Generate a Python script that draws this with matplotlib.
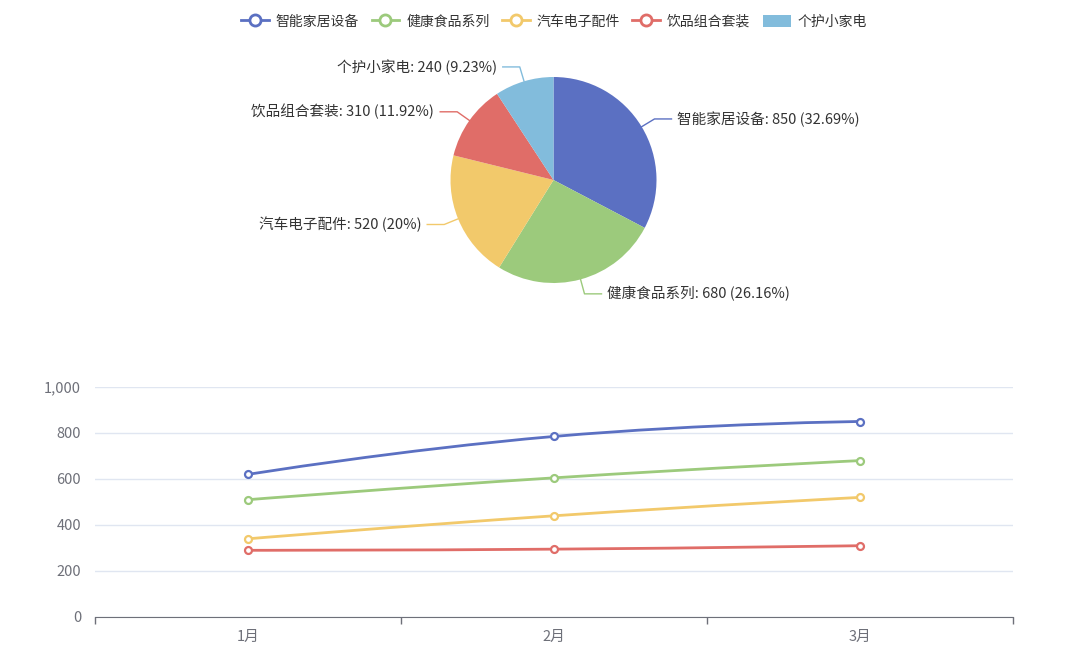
import numpy as np
import matplotlib.pyplot as plt
from matplotlib.path import Path
from matplotlib.patches import PathPatch, Patch
from matplotlib.lines import Line2D

plt.rcParams['font.family'] = ['Noto Sans CJK SC', 'DejaVu Sans']

# data
categories = ['智能家居设备', '健康食品系列', '汽车电子配件', '饮品组合套装', '个护小家电']
pie_values = [850, 680, 520, 310, 240]
months = ['1月', '2月', '3月']
line_series = {
    '智能家居设备': [620, 785, 850],
    '健康食品系列': [510, 605, 680],
    '汽车电子配件': [340, 440, 520],
    '饮品组合套装': [290, 295, 310],
}
colors = ['#5b70c2', '#9cca7c', '#f2c96b', '#e06d68', '#82bcdc']

AXIS_GRAY = '#6E7079'
GRID = '#E0E6F1'
TEXT = '#333333'


def percents(vals, digits=2):
    # largest remainder method, like echarts getPercentWithPrecision
    total = sum(vals)
    scale = 10 ** digits
    raw = [v / total * 100 * scale for v in vals]
    base = [int(np.floor(r)) for r in raw]
    left = 100 * scale - sum(base)
    order = sorted(range(len(vals)), key=lambda i: raw[i] - base[i], reverse=True)
    for i in order[:left]:
        base[i] += 1
    return [b / scale for b in base]


def smooth_path(ax, xs, ys, smooth=0.5):
    pts = ax.transData.transform(np.column_stack([xs, ys]))
    n = len(pts)
    verts = [pts[0]]
    codes = [Path.MOVETO]
    cps = []
    for i in range(n):
        if i == 0 or i == n - 1:
            cps.append((pts[i], pts[i]))
            continue
        prev, cur, nxt = pts[i - 1], pts[i], pts[i + 1]
        v = (nxt - prev) * smooth
        d0 = np.hypot(*(cur - prev))
        d1 = np.hypot(*(nxt - cur))
        s = d0 + d1
        cps.append((cur - v * d0 / s, cur + v * d1 / s))
    for i in range(1, n):
        verts += [cps[i - 1][1], cps[i][0], pts[i]]
        codes += [Path.CURVE4] * 3
    verts = ax.transData.inverted().transform(np.array(verts))
    return Path(verts, codes)


fig = plt.figure(figsize=(10.8, 6.62), dpi=100)
W, H = 1080, 662

# pie, drawn in a pixel-coordinate overlay
ax_pie = fig.add_axes([0, 0, 1, 1])
cx, cy, r = 553.5, H - 180, 103
ax_pie.pie(pie_values, colors=colors, startangle=90, counterclock=False,
           center=(cx, cy), radius=r, wedgeprops=dict(linewidth=0))
ax_pie.set_xlim(0, W)
ax_pie.set_ylim(0, H)
ax_pie.set_aspect('auto')
ax_pie.axis('off')

pcts = percents(pie_values)
total = sum(pie_values)
cum = 0
for name, v, p, c in zip(categories, pie_values, pcts, colors):
    mid = (cum + v / 2) / total
    cum += v
    ang = np.deg2rad(90 - mid * 360)
    x0, y0 = cx + r * np.cos(ang), cy + r * np.sin(ang)
    x1, y1 = cx + (r + 15) * np.cos(ang), cy + (r + 15) * np.sin(ang)
    side = 1 if np.cos(ang) >= 0 else -1
    x2 = x1 + side * 17
    ax_pie.plot([x0, x1, x2], [y0, y1, y1], color=c, lw=1)
    ax_pie.text(x2 + side * 6, y1, f'{name}: {v} ({p:g}%)', fontsize=10.5,
                color=TEXT, ha='left' if side > 0 else 'right', va='center')

# line chart
ax = fig.add_axes([95 / W, 1 - 617 / H, (1013 - 95) / W, (617 - 387) / H])
ax.set_xlim(-0.5, len(months) - 0.5)
ax.set_ylim(0, 1000)
x = np.arange(len(months))
for (name, vals), c in zip(line_series.items(), colors):
    ax.add_patch(PathPatch(smooth_path(ax, x, vals), fill=False, edgecolor=c, lw=2, zorder=3))
    ax.plot(x, vals, linestyle='none', marker='o', markersize=5, mfc='white',
            mec=c, mew=1.6, zorder=4)

ax.set_yticks(range(0, 1001, 200))
ax.set_yticklabels([f'{t:,}' for t in range(0, 1001, 200)])
ax.grid(axis='y', color=GRID, lw=1)
ax.set_axisbelow(True)
ax.set_xticks(x)
ax.set_xticklabels(months)
ax.set_xticks(np.arange(-0.5, len(months)), minor=True)
ax.tick_params(axis='x', which='major', length=0, pad=9, labelsize=10.5, labelcolor=AXIS_GRAY)
ax.tick_params(axis='x', which='minor', length=5, color=AXIS_GRAY, width=1)
ax.tick_params(axis='y', length=0, pad=10, labelsize=10.5, labelcolor=AXIS_GRAY)
for s in ['top', 'right', 'left']:
    ax.spines[s].set_visible(False)
ax.spines['bottom'].set_color(AXIS_GRAY)

# legend
handles = [Line2D([0], [0], color=c, lw=2, marker='o', markersize=8, mfc='white', mew=2)
           for c in colors[:4]]
handles.append(Patch(facecolor=colors[4], edgecolor='none'))
fig.legend(handles, categories, loc='upper center', bbox_to_anchor=(0.513, 0.997),
           ncol=5, frameon=False, fontsize=10, handlelength=2.0, handleheight=1.0,
           handletextpad=0.5, columnspacing=0.9, labelcolor=TEXT)

fig.savefig('out.png', dpi=100)
